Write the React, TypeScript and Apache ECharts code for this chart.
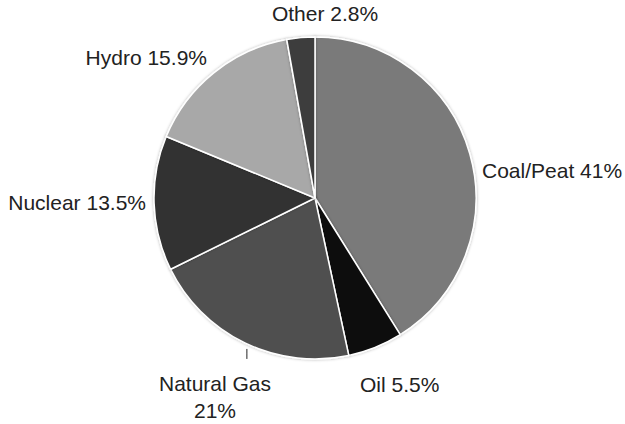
import React, { useEffect, useRef } from "react";
import * as echarts from "echarts";

const categories = ["Coal/Peat", "Oil", "Natural Gas", "Nuclear", "Hydro", "Other"];
const shares = [41, 5.5, 21, 13.5, 15.9, 2.8];
const labelTexts = ["Coal/Peat 41%", "Oil 5.5%", "Natural Gas\n21%", "Nuclear 13.5%", "Hydro 15.9%", "Other 2.8%"];
const sliceColors = ["#7a7a7a", "#101010", "#505050", "#303030", "#a8a8a8", "#3e3e3e"];

// label anchor placement per slice (layout only)
const labelPlacement: Record<number, { x: number; y: number; align: string }> = {
  0: { x: 482, y: 170, align: "left" },
  1: { x: 360, y: 384, align: "left" },
  2: { x: 215, y: 397, align: "center" },
  3: { x: 146, y: 202, align: "right" },
  4: { x: 207, y: 57, align: "right" },
  5: { x: 325, y: 13, align: "center" },
};

export default function App() {
  const ref = useRef<HTMLDivElement>(null);
  useEffect(() => {
    document.body.style.margin = "0";
    const chart = echarts.init(ref.current!, null, { renderer: "svg" });
    chart.setOption({
      animation: false,
      backgroundColor: "#ffffff",
      series: [
        {
          type: "pie",
          center: [315, 198],
          radius: 161,
          startAngle: 90,
          clockwise: true,
          avoidLabelOverlap: false,
          itemStyle: {
            borderColor: "#ffffff",
            borderWidth: 1.5,
            shadowBlur: 3,
            shadowColor: "rgba(0,0,0,0.3)",
          },
          label: {
            show: true,
            position: "outside",
            fontFamily: "Liberation Sans, Arial, sans-serif",
            fontSize: 21,
            color: "#222222",
            lineHeight: 27,
          },
          labelLine: { show: false },
          labelLayout: (params: any) => {
            const p = labelPlacement[params.dataIndex];
            const out: any = { x: p.x, y: p.y, align: p.align, verticalAlign: "middle" };
            if (params.labelLinePoints && params.labelLinePoints.length) {
              const p0 = params.labelLinePoints[0];
              out.labelLinePoints = [
                [p0[0] + 2, p0[1] + 6],
                [p0[0] + 2, p0[1] + 11],
                [p0[0] + 2, p0[1] + 16],
              ];
            }
            return out;
          },
          data: categories.map((c, i) => ({
            name: c,
            value: shares[i],
            itemStyle: { color: sliceColors[i] },
            label: { formatter: labelTexts[i] },
            labelLine:
              i === 2
                ? { show: true, length: 8, length2: 0, lineStyle: { color: "#222222", width: 1 } }
                : { show: false },
          })),
        },
      ],
    });
    return () => chart.dispose();
  }, []);
  return <div ref={ref} style={{ width: 625, height: 424 }} />;
}
